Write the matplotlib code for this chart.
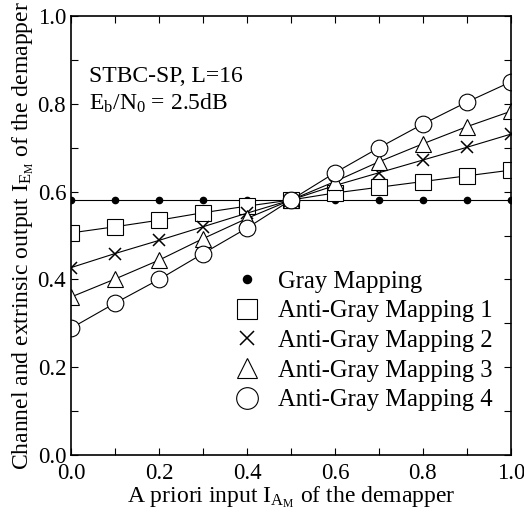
import numpy as np
import matplotlib
matplotlib.use("Agg")
import matplotlib.pyplot as plt
from matplotlib.ticker import MultipleLocator, FormatStrFormatter

plt.rcParams['font.family'] = ['Liberation Serif', 'DejaVu Serif']
plt.rcParams['mathtext.fontset'] = 'custom'
plt.rcParams['mathtext.rm'] = 'Liberation Serif'
plt.rcParams['mathtext.it'] = 'Liberation Serif:italic'

# a priori input I_AM
x = [0.0, 0.1, 0.2, 0.3, 0.4, 0.5, 0.6, 0.7, 0.8, 0.9, 1.0]
gray = [0.581] * 11
agm1 = [0.506, 0.520, 0.535, 0.552, 0.567, 0.581, 0.597, 0.610, 0.623, 0.636, 0.649]
agm2 = [0.427, 0.459, 0.489, 0.520, 0.551, 0.581, 0.614, 0.643, 0.672, 0.701, 0.731]
agm3 = [0.360, 0.401, 0.444, 0.493, 0.539, 0.581, 0.623, 0.668, 0.709, 0.748, 0.783]
agm4 = [0.289, 0.346, 0.400, 0.459, 0.517, 0.581, 0.643, 0.700, 0.754, 0.804, 0.850]

fig = plt.figure(figsize=(5.24, 5.16), dpi=100)
ax = fig.add_axes([0.1355, 0.118, 0.8395, 0.851])

lw = 0.8
ax.plot(x, gray, color='black', lw=lw, marker='o', ms=4.5, label='Gray Mapping')
ax.plot(x, agm1, color='black', lw=lw, marker='s', ms=11, mfc='white', mew=0.8,
        label='Anti-Gray Mapping 1')
ax.plot(x, agm2, color='black', lw=lw, marker='x', ms=8, mew=1.1, label='Anti-Gray Mapping 2')
ax.plot(x, agm3, color='black', lw=lw, marker='^', ms=11, mfc='white', mew=0.8,
        label='Anti-Gray Mapping 3')
ax.plot(x, agm4, color='black', lw=lw, marker='o', ms=12, mfc='white', mew=0.8,
        label='Anti-Gray Mapping 4')

ax.set_xlim(0, 1)
ax.set_ylim(0, 1)
ax.xaxis.set_major_locator(MultipleLocator(0.2))
ax.xaxis.set_minor_locator(MultipleLocator(0.1))
ax.yaxis.set_major_locator(MultipleLocator(0.2))
ax.yaxis.set_minor_locator(MultipleLocator(0.1))
ax.tick_params(which='both', direction='in', top=True, right=True, labelsize=16.5)
ax.tick_params(which='both', length=5, width=0.8)
ax.tick_params(axis='x', pad=6)
ax.xaxis.set_major_formatter(FormatStrFormatter('%.1f'))
ax.yaxis.set_major_formatter(FormatStrFormatter('%.1f'))
for s in ax.spines.values():
    s.set_linewidth(1.2)

ax.set_xlabel(r'A priori input $\mathrm{I_{A_M}}$ of the demapper', fontsize=17, labelpad=0)
ax.set_ylabel(r'Channel and extrinsic output $\mathrm{I_{E_M}}$ of the demapper', fontsize=17,
              labelpad=1)

ax.text(0.04, 0.85, 'STBC-SP, L=16', fontsize=17, va='baseline')
ax.text(0.04, 0.787, r'$\mathrm{E_b/N_0}$ = 2.5dB', fontsize=17, va='baseline')

leg = ax.legend(loc='upper left', frameon=False, fontsize=17.7, handlelength=1.0,
                handletextpad=0.75, labelspacing=0.3, borderaxespad=0, borderpad=0,
                markerscale=1.3, bbox_to_anchor=(0.373, 0.42))
for lh in leg.get_lines():
    lh.set_linestyle('None')

fig.savefig('out.png', dpi=100)
